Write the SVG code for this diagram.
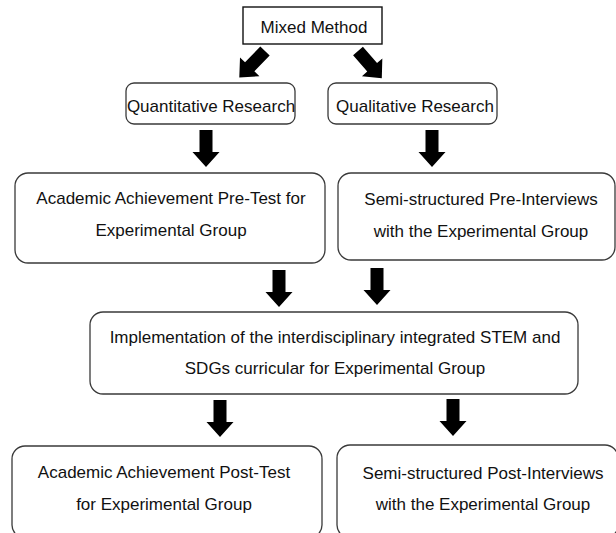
<svg xmlns="http://www.w3.org/2000/svg" width="616" height="533" viewBox="0 0 616 533">
<defs>
<style>
.box{fill:#fff;stroke:#3a3a3a;stroke-width:1.3}
.sq{fill:#fff;stroke:#111;stroke-width:1.4}
.t{font-family:"Liberation Sans",Arial,sans-serif;font-size:17px;fill:#111;text-anchor:middle}
.arr{fill:#000}
</style>
<polygon id="arrow" points="-6.5,0 6.5,0 6.5,22 13.5,22 0,37 -13.5,22 -6.5,22"/>
</defs>
<rect width="616" height="533" fill="#fff"/>
<g id="connectors" class="arr">
<use href="#arrow" transform="translate(265,51) rotate(44)"/>
<use href="#arrow" transform="translate(358,51) rotate(-41) scale(1,0.98)"/>
<use href="#arrow" x="206" y="130"/>
<use href="#arrow" x="432" y="130"/>
<use href="#arrow" x="279" y="270"/>
<use href="#arrow" x="377" y="268"/>
<use href="#arrow" x="220" y="400"/>
<use href="#arrow" x="453" y="399"/>
</g>
<g id="mixed">
<rect class="sq" x="243" y="7" width="139" height="37"/>
<text class="t" x="314" y="33">Mixed Method</text>
</g>
<g id="quantitative">
<rect class="box" x="126" y="83" width="169" height="41" rx="8"/>
<text class="t" x="211" y="112">Quantitative Research</text>
</g>
<g id="qualitative">
<rect class="box" x="328" y="83" width="169" height="41" rx="8"/>
<text class="t" x="415" y="112">Qualitative Research</text>
</g>
<g id="pretest">
<rect class="box" x="15" y="173" width="310" height="90" rx="13"/>
<text class="t" x="171" y="204">Academic Achievement Pre-Test for</text>
<text class="t" x="171" y="236">Experimental Group</text>
</g>
<g id="preinterviews">
<rect class="box" x="338" y="173" width="277" height="87" rx="13"/>
<text class="t" x="481" y="205">Semi-structured Pre-Interviews</text>
<text class="t" x="481" y="237">with the Experimental Group</text>
</g>
<g id="implementation">
<rect class="box" x="90" y="312" width="488" height="82" rx="13"/>
<text class="t" x="335" y="343">Implementation of the interdisciplinary integrated STEM and</text>
<text class="t" x="335" y="374">SDGs curricular for Experimental Group</text>
</g>
<g id="posttest">
<rect class="box" x="12" y="446" width="310" height="92" rx="13"/>
<text class="t" x="164" y="478">Academic Achievement Post-Test</text>
<text class="t" x="164" y="510">for Experimental Group</text>
</g>
<g id="postinterviews">
<rect class="box" x="337" y="445" width="281" height="93" rx="13"/>
<text class="t" x="483" y="479">Semi-structured Post-Interviews</text>
<text class="t" x="483" y="510">with the Experimental Group</text>
</g>
</svg>
